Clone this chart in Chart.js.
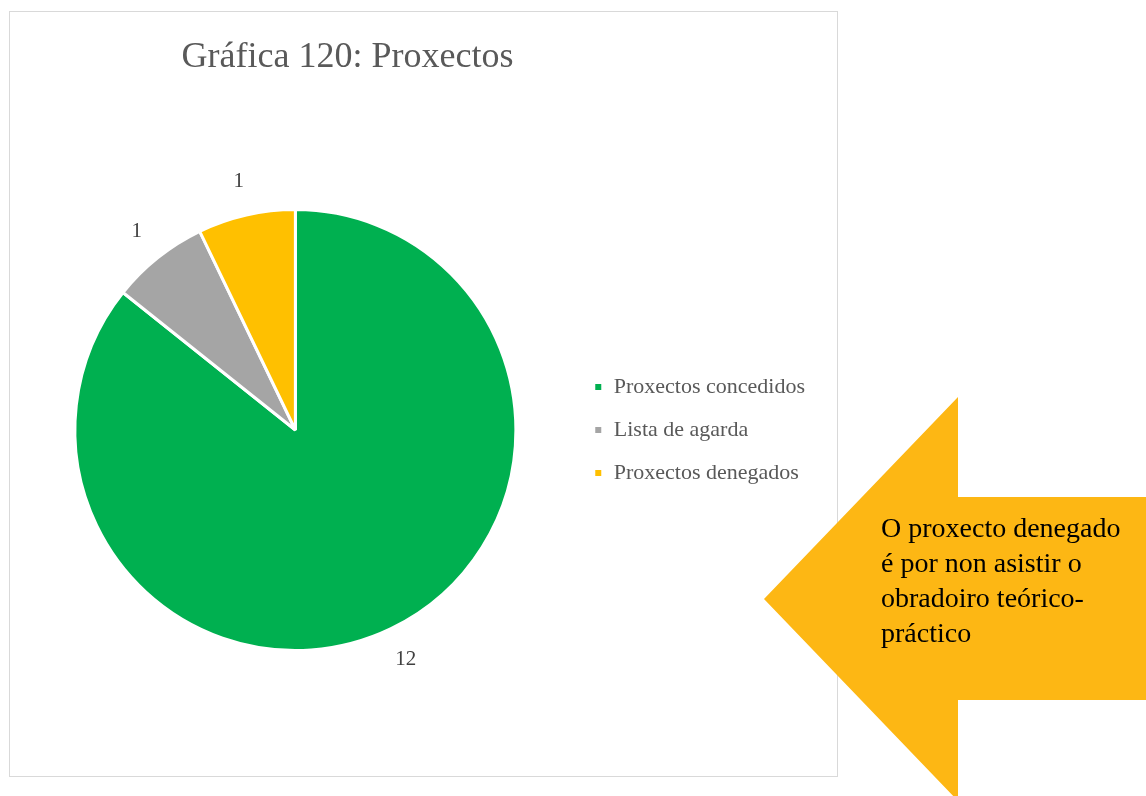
<!DOCTYPE html>
<html>
<head>
<meta charset="utf-8">
<script src="https://cdn.jsdelivr.net/npm/chart.js@4"></script>
<style>
  body { margin: 0; width: 1146px; height: 796px; background: #fff; position: relative; overflow: hidden; font-family: "Liberation Serif", serif; }
  #box { position: absolute; left: 9px; top: 11px; width: 829px; height: 766px; border: 1px solid #d9d9d9; box-sizing: border-box; }
  #box canvas { position: absolute; left: 0; top: 0; }
  #title { position: absolute; left: 0; width: 695px; top: 34px; text-align: center; font-size: 36px; color: #595959; }
  #arrow { position: absolute; left: 0; top: 0; }
  #note { position: absolute; left: 881px; top: 510px; font-size: 28px; line-height: 35px; color: #000; }
</style>
</head>
<body>
<div id="box">
  <canvas id="myChart" width="829" height="766"></canvas>
</div>
<div id="title">Gráfica 120: Proxectos</div>
<svg id="arrow" width="1146" height="796">
  <polygon points="764,599 958,397 958,497 1146,497 1146,700 958,700 958,801" fill="#FDB714"/>
</svg>
<div id="note">O proxecto denegado<br>é por non asistir o<br>obradoiro teórico-<br>práctico</div>

<script>
const labels = ['Proxectos concedidos', 'Lista de agarda', 'Proxectos denegados']
const values = [12, 1, 1]
const colors = ['#00B050', '#A5A5A5', '#FFC000']

// draws the value next to each slice, outside the pie
const outsideLabels = {
    id: 'outsideLabels',
    afterDatasetsDraw(chart) {
        const { ctx } = chart
        const meta = chart.getDatasetMeta(0)
        ctx.save()
        ctx.font = '21px "Liberation Serif"'
        ctx.fillStyle = '#404040'
        ctx.textAlign = 'center'
        ctx.textBaseline = 'middle'
        meta.data.forEach((arc, i) => {
            const mid = (arc.startAngle + arc.endAngle) / 2
            const r = arc.outerRadius + 34
            ctx.fillText(String(values[i]), arc.x + Math.cos(mid) * r, arc.y + Math.sin(mid) * r)
        })
        ctx.restore()
    }
}

const ctx = document.getElementById('myChart')

new Chart(ctx, {
    type: 'pie',
    data: {
        labels: labels,
        datasets: [{
            data: values,
            backgroundColor: colors,
            borderColor: '#ffffff',
            borderWidth: 3
        }]
    },
    options: {
        responsive: false,
        animation: false,
        layout: { padding: { left: 8, top: 196, bottom: 126, right: 24 } },
        plugins: {
            tooltip: { enabled: false },
            legend: {
                position: 'right',
                labels: {
                    boxWidth: 9,
                    boxHeight: 9,
                    padding: 21,
                    color: '#595959',
                    font: { family: 'Liberation Serif', size: 22 }
                }
            }
        }
    },
    plugins: [outsideLabels]
})
</script>
</body>
</html>
